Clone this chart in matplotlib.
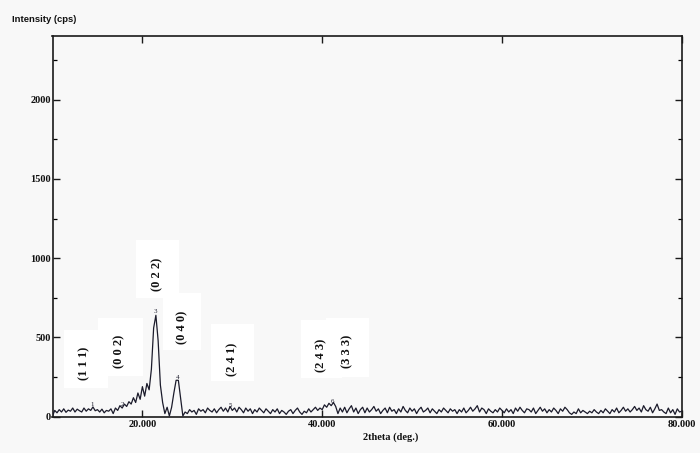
import numpy as np
import matplotlib
matplotlib.use("Agg")
import matplotlib.pyplot as plt
from matplotlib.patches import Rectangle
from matplotlib.ticker import MultipleLocator, FixedLocator

# ---- data ----
two_theta_start = 10.0
two_theta_step = 0.25
intensity = [
    # 10.00 - 14.75
    5, 40, 25, 45, 30, 50, 28, 42, 35, 55, 30, 48, 38, 30, 55, 35, 50, 40, 62, 38,
    # 15.00 - 19.75
    45, 30, 48, 25, 40, 35, 50, 20, 55, 40, 70, 55, 80, 65, 95, 80, 120, 90, 150, 110,
    # 20.00 - 24.75
    190, 130, 210, 170, 300, 560, 640, 480, 200, 90, 20, 60, 5, 60, 150, 230, 230, 120, 5, 30,
    # 25.00 - 29.75
    20, 45, 30, 40, 15, 50, 35, 45, 25, 55, 40, 30, 50, 25, 45, 60, 35, 55, 30, 65,
    # 30.00 - 34.75
    40, 55, 30, 60, 45, 25, 55, 35, 50, 20, 45, 30, 55, 40, 25, 50, 35, 20, 45, 30,
    # 35.00 - 39.75
    50, 20, 40, 30, 15, 35, 45, 20, 40, 55, 30, 15, 35, 25, 50, 30, 45, 60, 40, 55,
    # 40.00 - 44.75
    45, 75, 60, 85, 70, 90, 65, 20, 55, 30, 60, 25, 50, 70, 30, 55, 20, 45, 60, 25,
    # 45.00 - 49.75
    55, 30, 45, 65, 35, 50, 20, 40, 55, 25, 60, 35, 45, 20, 50, 30, 65, 40, 25, 55,
    # 50.00 - 54.75
    35, 50, 20, 45, 60, 30, 40, 55, 25, 50, 35, 20, 45, 30, 55, 40, 25, 50, 35, 45,
    # 55.00 - 59.75
    20, 45, 30, 55, 25, 40, 60, 35, 50, 70, 30, 55, 45, 20, 50, 35, 25, 45, 30, 55,
    # 60.00 - 64.75
    40, 25, 50, 30, 45, 20, 55, 35, 60, 40, 25, 50, 45, 30, 55, 20, 40, 60, 35, 50,
    # 65.00 - 69.75
    25, 45, 30, 55, 40, 20, 50, 35, 60, 45, 25, 15, 30, 20, 50, 25, 40, 30, 20, 35,
    # 70.00 - 74.75
    25, 45, 30, 20, 40, 25, 50, 35, 20, 45, 30, 55, 25, 40, 60, 35, 50, 30, 45, 65,
    # 75.00 - 79.75
    40, 55, 30, 70, 45, 35, 60, 25, 50, 80, 40, 45, 30, 20, 55, 25, 45, 15, 50, 30,
    # 80.00
    35,
]
two_theta = two_theta_start + two_theta_step * np.arange(len(intensity))

# Miller index labels: text, centre 2theta, centre cps
hkl_labels = ["(1 1 1)", "(0 0 2)", "(0 2 2)", "(0 4 0)", "(2 4 1)", "(2 4 3)", "(3 3 3)"]
hkl_text_x = [13.5, 17.4, 21.7, 24.4, 30.0, 29.9 + 10.0, 42.8]
hkl_text_y = [335, 410, 895, 565, 365, 390, 410]
hkl_box_x = [13.7, 17.6, 21.65, 24.4, 30.0, 39.9, 42.8]
hkl_box_y = [367, 440, 930, 598, 408, 430, 437]
hkl_box_w = [4.9, 5.0, 4.8, 4.2, 4.8, 4.5, 4.8]
hkl_box_h = [365, 370, 365, 360, 360, 365, 375]

# peak-search marks of the instrument software
peak_mark_text = ["1", "2", "3", "4", "5", "6"]
peak_mark_x = [14.4, 17.8, 21.5, 23.9, 29.8, 41.1]
peak_mark_y = [60, 62, 645, 230, 55, 80]

x_ticks = [20, 40, 60, 80]
x_tick_labels = ["20.000", "40.000", "60.000", "80.000"]
y_ticks = [0, 500, 1000, 1500, 2000]

# ---- figure ----
bg = "#f8f8f8"
fig = plt.figure(figsize=(7.0, 4.53), dpi=100, facecolor=bg)
ax = fig.add_axes([0.075, 0.080, 0.899, 0.840], facecolor=bg)

ax.plot(two_theta, intensity, color="#1b1b2b", lw=0.9, zorder=3)

ax.set_xlim(10, 80)
ax.set_ylim(0, 2400)

for sp in ax.spines.values():
    sp.set_color("#1a1a1a")
    sp.set_linewidth(1.2)

ax.xaxis.set_major_locator(FixedLocator(x_ticks))
ax.set_xticklabels(x_tick_labels)
ax.yaxis.set_major_locator(FixedLocator(y_ticks))
ax.yaxis.set_minor_locator(MultipleLocator(250))
ax.tick_params(axis="both", which="major", direction="in", length=5, width=1.0,
               top=True, right=True, colors="#1a1a1a", pad=2)
ax.tick_params(axis="y", which="minor", direction="in", length=3, width=0.9, right=True)
ax.tick_params(axis="y", which="major", pad=1)
for lab in ax.get_xticklabels() + ax.get_yticklabels():
    lab.set_family("Liberation Serif")
    lab.set_fontweight("bold")
    lab.set_fontsize(7.5)
    lab.set_color("#111111")

fig.text(0.017, 0.958, "Intensity (cps)", family="Liberation Sans", fontweight="bold",
         fontsize=6.8, color="#111111", ha="left", va="center")
fig.text(0.558, 0.035, "2theta (deg.)", family="Liberation Serif", fontweight="bold",
         fontsize=7.5, color="#111111", ha="center", va="center")

# white label boxes with rotated Miller indices
for bx, by, bw, bh in zip(hkl_box_x, hkl_box_y, hkl_box_w, hkl_box_h):
    ax.add_patch(Rectangle((bx - bw / 2, by - bh / 2), bw, bh, facecolor="white",
                           edgecolor="none", zorder=4, clip_on=False))
for t, tx, ty in zip(hkl_labels, hkl_text_x, hkl_text_y):
    ax.text(tx, ty, t, rotation=90, ha="center", va="center", family="Liberation Serif",
            fontweight="bold", fontsize=9, color="#111111", zorder=5)

for t, tx, ty in zip(peak_mark_text, peak_mark_x, peak_mark_y):
    ax.text(tx, ty, t, ha="center", va="bottom", family="Liberation Serif",
            fontsize=5, color="#1b1b2b", zorder=5)

fig.savefig("out.png", dpi=100, facecolor=bg)
